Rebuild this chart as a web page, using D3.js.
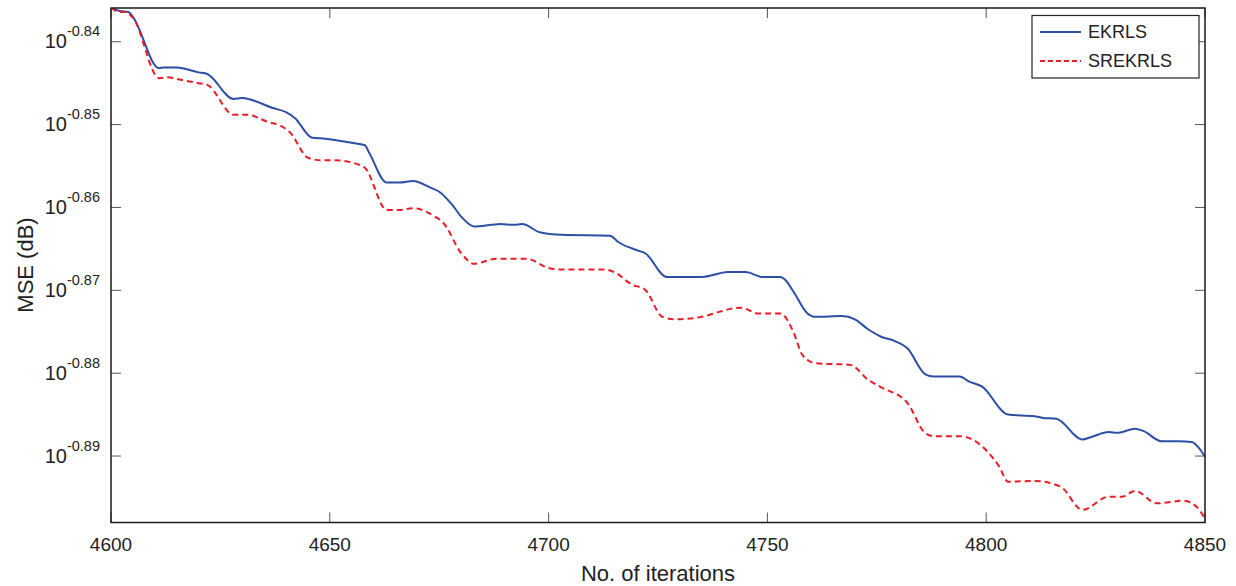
<!DOCTYPE html>
<html>
<head>
<meta charset="utf-8">
<script src="https://cdn.jsdelivr.net/npm/d3@7"></script>
<style>
  html, body { margin: 0; padding: 0; background: #fff; }
  #chart { width: 1236px; height: 586px; }
  svg { display: block; font-family: "Liberation Sans", Arial, Helvetica, sans-serif; }
</style>
</head>
<body>
<div id="chart"></div>
<script>
// x ticks and y ticks (log10 of MSE)
const xTicks = [4600, 4650, 4700, 4750, 4800, 4850];
const yTickExps = [-0.84, -0.85, -0.86, -0.87, -0.88, -0.89];

// EKRLS: iteration / log10(MSE)
const ekrlsIter = [4600, 4602, 4604, 4605, 4611, 4612, 4615, 4620, 4622, 4628, 4630, 4632, 4637, 4640, 4642, 4646,
  4649, 4655, 4658, 4659, 4663, 4666, 4669, 4673, 4675, 4678, 4680, 4683, 4687, 4689, 4692, 4694, 4698, 4703,
  4714, 4716, 4721, 4722, 4727, 4735, 4741, 4745, 4749, 4753, 4754, 4756, 4759, 4761, 4767, 4770, 4773, 4776,
  4779, 4782, 4786, 4788, 4794, 4796, 4799, 4805, 4811, 4813, 4816, 4822, 4824, 4828, 4830, 4834, 4836, 4840,
  4844, 4847, 4849, 4850];
const ekrlsLog = [-0.8359, -0.8363, -0.8364, -0.8370, -0.8432, -0.8431, -0.8431, -0.8437, -0.8439, -0.8469,
  -0.8468, -0.8470, -0.8480, -0.8485, -0.8492, -0.8516, -0.8517, -0.8522, -0.8525, -0.8534, -0.8570, -0.8570,
  -0.8568, -0.8576, -0.8581, -0.8597, -0.8611, -0.8623, -0.8621, -0.8620, -0.8621, -0.8620, -0.8630, -0.8633,
  -0.8634, -0.8642, -0.8653, -0.8655, -0.8684, -0.8684, -0.8678, -0.8678, -0.8684, -0.8684, -0.8687, -0.8702,
  -0.8727, -0.8732, -0.8731, -0.8735, -0.8747, -0.8756, -0.8761, -0.8770, -0.8801, -0.8804, -0.8804, -0.8810,
  -0.8816, -0.8850, -0.8852, -0.8854, -0.8855, -0.8880, -0.8877, -0.8871, -0.8872, -0.8867, -0.8870, -0.8882,
  -0.8882, -0.8883, -0.8893, -0.8901];

// SREKRLS
const srekrlsIter = [4600, 4602, 4603, 4605, 4611, 4613, 4616, 4620, 4622, 4628, 4631, 4636, 4639, 4641, 4645,
  4648, 4651, 4657, 4658, 4663, 4666, 4669, 4674, 4676, 4680, 4683, 4688, 4691, 4695, 4700, 4703, 4713, 4715,
  4719, 4722, 4726, 4729, 4735, 4739, 4741, 4744, 4748, 4753, 4756, 4758, 4761, 4769, 4773, 4776, 4782, 4786,
  4788, 4794, 4800, 4803, 4805, 4811, 4817, 4822, 4828, 4831, 4834, 4839, 4845, 4847, 4849, 4850];
const srekrlsLog = [-0.8359, -0.8364, -0.8364, -0.8371, -0.8444, -0.8443, -0.8446, -0.8450, -0.8452, -0.8488,
  -0.8488, -0.8497, -0.8502, -0.8510, -0.8540, -0.8543, -0.8543, -0.8549, -0.8552, -0.8603, -0.8603, -0.8601,
  -0.8611, -0.8619, -0.8655, -0.8668, -0.8662, -0.8662, -0.8662, -0.8673, -0.8675, -0.8675, -0.8678, -0.8693,
  -0.8699, -0.8732, -0.8735, -0.8732, -0.8726, -0.8723, -0.8721, -0.8728, -0.8728, -0.8751, -0.8778, -0.8788,
  -0.8790, -0.8808, -0.8817, -0.8836, -0.8872, -0.8876, -0.8876, -0.8893, -0.8913, -0.8931, -0.8930, -0.8937,
  -0.8965, -0.8949, -0.8949, -0.8942, -0.8957, -0.8954, -0.8957, -0.8967, -0.8976];

const seriesNames = ["EKRLS", "SREKRLS"];

const width = 1236, height = 586;
const margin = { top: 8, right: 31, bottom: 63.5, left: 111 };
const innerW = width - margin.left - margin.right;
const innerH = height - margin.top - margin.bottom;

const x = d3.scaleLinear().domain([4600, 4850]).range([margin.left, margin.left + innerW]);
const y = d3.scaleLog()
  .domain([Math.pow(10, -0.89802), Math.pow(10, -0.83593)])
  .range([margin.top + innerH, margin.top]);

const series = [
  { name: seriesNames[0], color: "#2c4fa6", dash: null,
    values: ekrlsIter.map((it, i) => ({ it, v: Math.pow(10, ekrlsLog[i]) })) },
  { name: seriesNames[1], color: "#ec1c24", dash: "6,4",
    values: srekrlsIter.map((it, i) => ({ it, v: Math.pow(10, srekrlsLog[i]) })) },
];

const svg = d3.select("#chart").append("svg")
  .attr("width", width).attr("height", height);

svg.append("defs").append("clipPath").attr("id", "plot-clip")
  .append("rect")
  .attr("x", margin.left).attr("y", margin.top)
  .attr("width", innerW).attr("height", innerH);

// ticks, inside, on all four sides
const tickLen = 10;
const gTicks = svg.append("g").attr("stroke", "#555").attr("stroke-width", 1);
xTicks.forEach((t) => {
  gTicks.append("line")
    .attr("x1", x(t)).attr("x2", x(t))
    .attr("y1", margin.top + innerH).attr("y2", margin.top + innerH - tickLen);
  gTicks.append("line")
    .attr("x1", x(t)).attr("x2", x(t))
    .attr("y1", margin.top).attr("y2", margin.top + tickLen);
});
yTickExps.forEach((e) => {
  const yy = y(Math.pow(10, e));
  gTicks.append("line")
    .attr("x1", margin.left).attr("x2", margin.left + tickLen)
    .attr("y1", yy).attr("y2", yy);
  gTicks.append("line")
    .attr("x1", margin.left + innerW).attr("x2", margin.left + innerW - tickLen)
    .attr("y1", yy).attr("y2", yy);
});

// lines
const line = d3.line()
  .x((d) => x(d.it))
  .y((d) => y(d.v))
  .curve(d3.curveMonotoneX);

svg.append("g").attr("clip-path", "url(#plot-clip)")
  .selectAll("path")
  .data(series)
  .join("path")
  .attr("fill", "none")
  .attr("stroke", (d) => d.color)
  .attr("stroke-width", 2)
  .attr("stroke-dasharray", (d) => d.dash)
  .attr("d", (d) => line(d.values));

// frame
svg.append("rect")
  .attr("x", margin.left).attr("y", margin.top)
  .attr("width", innerW).attr("height", innerH)
  .attr("fill", "none").attr("stroke", "#1a1a1a").attr("stroke-width", 1.5);

// x tick labels
svg.append("g")
  .selectAll("text")
  .data(xTicks)
  .join("text")
  .attr("x", (d) => x(d))
  .attr("y", 551)
  .attr("text-anchor", "middle")
  .attr("font-size", 19)
  .attr("fill", "#222")
  .text((d) => d);

// y tick labels 10^e
const yLabels = svg.append("g")
  .selectAll("text")
  .data(yTickExps)
  .join("text")
  .attr("x", margin.left - 11)
  .attr("y", (d) => y(Math.pow(10, d)) + 6.5)
  .attr("text-anchor", "end")
  .attr("font-size", 20)
  .attr("fill", "#222");
yLabels.append("tspan").text("10");
yLabels.append("tspan")
  .attr("dy", -12)
  .attr("font-size", 14.5)
  .text((d) => d.toFixed(2));

// axis titles
svg.append("text")
  .attr("x", margin.left + innerW / 2)
  .attr("y", 581)
  .attr("text-anchor", "middle")
  .attr("font-size", 22)
  .attr("fill", "#222")
  .text("No. of iterations");

svg.append("text")
  .attr("transform", "translate(33,265) rotate(-90)")
  .attr("text-anchor", "middle")
  .attr("font-size", 22)
  .attr("fill", "#222")
  .text("MSE (dB)");

// legend
const legend = svg.append("g");
legend.append("rect")
  .attr("x", 1032).attr("y", 15.5)
  .attr("width", 167).attr("height", 62.5)
  .attr("fill", "#fff").attr("stroke", "#222").attr("stroke-width", 1.2);
const legendRows = legend.selectAll("g.row")
  .data(series)
  .join("g")
  .attr("class", "row")
  .attr("transform", (d, i) => `translate(0,${32 + i * 29})`);
legendRows.append("line")
  .attr("x1", 1040).attr("x2", 1081)
  .attr("stroke", (d) => d.color)
  .attr("stroke-width", 2)
  .attr("stroke-dasharray", (d) => (d.dash ? "5,3" : null));
legendRows.append("text")
  .attr("x", 1088).attr("y", 6)
  .attr("font-size", 18)
  .attr("fill", "#222")
  .text((d) => d.name);
</script>
</body>
</html>
